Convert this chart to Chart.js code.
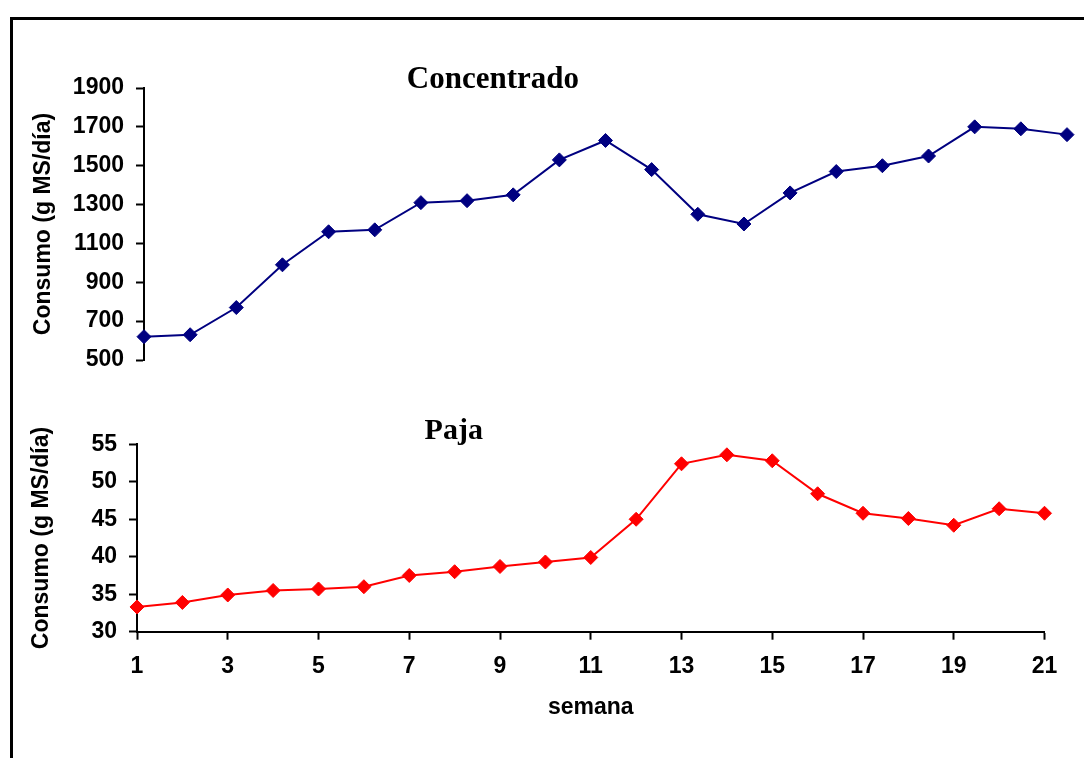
<!DOCTYPE html>
<html lang="es">
<head>
<meta charset="utf-8">
<title>Consumo semanal: Concentrado y Paja</title>
<script src="https://cdn.jsdelivr.net/npm/chart.js@4.4.1/dist/chart.umd.min.js"></script>
<style>
  html, body { margin: 0; padding: 0; background: #fff; }
  #page { position: relative; width: 1084px; height: 758px; overflow: hidden; background: #fff; }
  #frame { position: absolute; left: 10px; top: 17px; width: 1200px; height: 900px;
           border-left: 3px solid #000; border-top: 3px solid #000; box-sizing: border-box; }
  canvas { position: absolute; left: 0; }
  #cTop { top: 0; }
  #cBottom { top: 380px; }
</style>
</head>
<body>
<div id="page">
  <div id="frame"></div>
  <canvas id="cTop" width="1084" height="380"></canvas>
  <canvas id="cBottom" width="1084" height="378"></canvas>
</div>
<script>
// Semanas del ensayo
const semanas = ['1','2','3','4','5','6','7','8','9','10','11','12','13','14','15','16','17','18','19','20','21'];

// Consumo de concentrado (g MS/día)
const concentrado = [620, 630, 770, 990, 1160, 1170, 1310, 1320, 1350, 1530, 1630,
                     1480, 1250, 1200, 1360, 1470, 1500, 1550, 1700, 1690, 1660];

// Consumo de paja (g MS/día)
const paja = [33.3, 33.9, 34.9, 35.5, 35.7, 36.0, 37.5, 38.0, 38.7, 39.3, 39.9,
              45.0, 52.4, 53.6, 52.8, 48.4, 45.8, 45.1, 44.2, 46.4, 45.8];

// Escalas del eje Y
const ticksConcentrado = { min: 500, max: 1900, step: 200 };
const ticksPaja = { min: 30, max: 55, step: 5 };

const tituloEjeY = 'Consumo (g MS/día)';
const tituloEjeX = 'semana';

const SANS = "'Liberation Sans', Arial, sans-serif";
const SERIF = "'Liberation Serif', 'Times New Roman', serif";
const LABEL_SIZE = 23;

// Texto de panel dibujado sobre el área del gráfico
const panelTitle = {
  id: 'panelTitle',
  afterDraw(chart, args, opts) {
    const { ctx, chartArea } = chart;
    ctx.save();
    ctx.font = 'bold ' + opts.size + 'px ' + SERIF;
    ctx.fillStyle = '#000';
    ctx.textAlign = 'center';
    ctx.textBaseline = 'alphabetic';
    const x = chartArea.left + opts.xFrac * (chartArea.right - chartArea.left);
    ctx.fillText(opts.text, x, opts.y);
    ctx.restore();
  }
};

function yScale(t, width, titlePad) {
  return {
    min: t.min, max: t.max,
    afterFit(scale) {
      scale.width = width;
      // the layout padding alone decides where the plot area ends
      scale.paddingTop = 0;
      scale.paddingBottom = 0;
    },
    ticks: { stepSize: t.step, color: '#000', padding: 12,
             callback: (v) => String(v),
             font: { family: SANS, size: LABEL_SIZE, weight: 'bold' } },
    grid: { drawOnChartArea: false, drawTicks: true, tickLength: 8,
            tickWidth: 2, tickColor: '#000' },
    border: { display: true, color: '#000', width: 2 },
    title: { display: true, text: tituloEjeY, color: '#000',
             padding: { top: titlePad, bottom: 0 },
             font: { family: SANS, size: LABEL_SIZE, weight: 'bold' } }
  };
}

const common = {
  responsive: false,
  devicePixelRatio: 1,
  animation: false,
  events: [],
  plugins: { legend: { display: false }, tooltip: { enabled: false } }
};

// Panel superior: Concentrado
new Chart(document.getElementById('cTop'), {
  type: 'line',
  data: {
    labels: semanas,
    datasets: [{
      data: concentrado,
      borderColor: '#000080', backgroundColor: '#000080',
      borderWidth: 2, tension: 0, clip: false,
      pointStyle: 'rectRot', pointRadius: 7, pointBorderWidth: 1,
      pointBackgroundColor: '#000080', pointBorderColor: '#000080'
    }]
  },
  options: Object.assign({}, common, {
    layout: { padding: { top: 88, bottom: 20, left: 0, right: 17 } },
    scales: {
      x: { type: 'category', display: false, offset: false },
      y: yScale(ticksConcentrado, 144, 30)
    },
    plugins: Object.assign({}, common.plugins, {
      panelTitle: { text: 'Concentrado', size: 31, xFrac: 0.378, y: 88 }
    })
  }),
  plugins: [panelTitle]
});

// Panel inferior: Paja
new Chart(document.getElementById('cBottom'), {
  type: 'line',
  data: {
    labels: semanas,
    datasets: [{
      data: paja,
      borderColor: '#FF0000', backgroundColor: '#FF0000',
      borderWidth: 2, tension: 0, clip: false,
      pointStyle: 'rectRot', pointRadius: 7, pointBorderWidth: 1,
      pointBackgroundColor: '#FF0000', pointBorderColor: '#FF0000'
    }]
  },
  options: Object.assign({}, common, {
    layout: { padding: { top: 64.3, bottom: 26.3, left: 0, right: 39.5 } },
    scales: {
      x: {
        type: 'category', offset: false,
        afterFit(scale) { scale.height = 100; },
        ticks: {
          autoSkip: false, maxRotation: 0, color: '#000', padding: 13,
          font: { family: SANS, size: LABEL_SIZE, weight: 'bold' },
          callback(value, index) { return index % 2 === 0 ? this.getLabelForValue(value) : ''; }
        },
        grid: {
          drawOnChartArea: false, drawTicks: true, tickLength: 8, tickWidth: 2,
          tickColor: (ctx) => (ctx.index % 2 === 0 ? '#000' : 'rgba(0,0,0,0)')
        },
        border: { display: true, color: '#000', width: 2 },
        title: { display: true, text: tituloEjeX, color: '#000',
                 padding: { top: 0, bottom: 10 },
                 font: { family: SANS, size: LABEL_SIZE, weight: 'bold' } }
      },
      y: yScale(ticksPaja, 137, 28)
    },
    plugins: Object.assign({}, common.plugins, {
      panelTitle: { text: 'Paja', size: 30, xFrac: 0.349, y: 59 }
    })
  }),
  plugins: [panelTitle]
});
</script>
</body>
</html>
